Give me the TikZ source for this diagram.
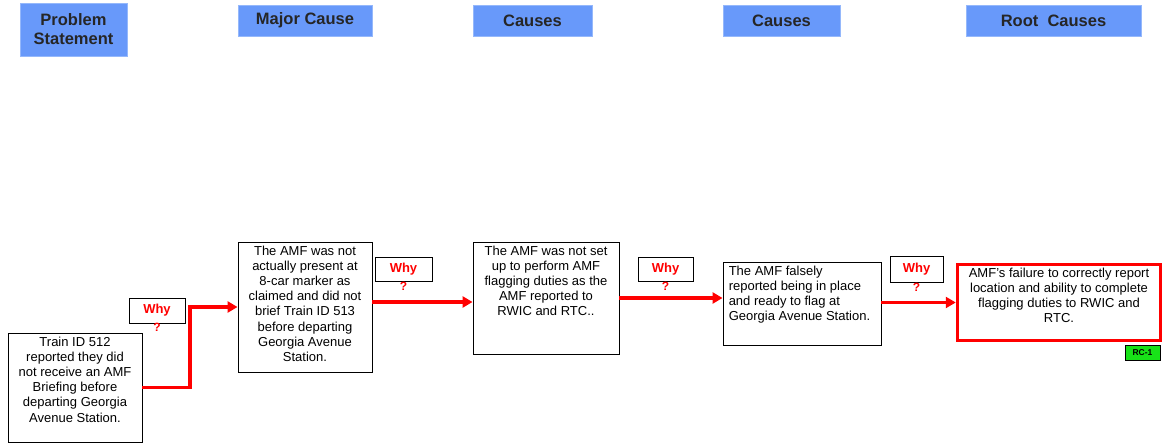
\documentclass[tikz,border=0pt]{standalone}
\usepackage{fontspec}
\setmainfont{Liberation Sans}
\usetikzlibrary{arrows.meta}
\usetikzlibrary{calc}
\definecolor{hdrblue}{RGB}{104,153,250}
\definecolor{rcgreen}{RGB}{24,226,24}

\tikzset{
  header/.style={fill=hdrblue, draw=hdrblue!70!white, line width=0.5pt, inner sep=0pt,
    align=center, font=\fontsize{16.5}{19}\selectfont\bfseries, text=black!85},
  causebox/.style={draw, line width=0.9pt, inner sep=0pt},
  causetext/.style={anchor=north, align=center, inner sep=0pt,
    font=\fontsize{13}{15.2}\selectfont},
  whybox/.style={draw, line width=0.9pt, inner sep=0pt, text=red,
    font=\fontsize{13}{14}\selectfont\bfseries},
  qmark/.style={inner sep=0pt, text=red, font=\fontsize{12}{13}\selectfont\bfseries},
  link/.style={red, line width=3.5pt, -{Triangle[length=10pt,width=11pt]}},
}

\begin{document}
\begin{tikzpicture}[x=1pt, y=-1pt]
\useasboundingbox (0,0) rectangle (1165,443);

% column headers
\node[header, minimum width=107, minimum height=53] (hprob) at (73.5,29.5) {Problem\\Statement};
\node[header, minimum width=134, minimum height=31] (hmajor) at (305,20.5) {Major Cause};
\node[header, minimum width=119, minimum height=31] (hcause1) at (532.5,20.5) {Causes};
\node[header, minimum width=117, minimum height=31] (hcause2) at (781.5,20.5) {Causes};
\node[header, minimum width=175, minimum height=31] (hroot) at (1053.5,20.5) {Root\ \ Causes};

% boxes
\node[causebox, minimum width=134, minimum height=109] (prob) at (75,387.5) {};
\node[causebox, minimum width=134, minimum height=130] (major) at (305,307) {};
\node[causebox, minimum width=146, minimum height=112] (cause1) at (546,298) {};
\node[causebox, minimum width=158, minimum height=83] (cause2) at (802,303.5) {};
\node[draw=red, line width=3.5pt, inner sep=0pt, minimum width=203, minimum height=76] (root) at (1059,302.5) {};
\node[draw, fill=rcgreen, line width=0.6pt, inner sep=0pt, minimum width=35, minimum height=15,
  font=\fontsize{8.5}{9}\selectfont\bfseries] (rc) at (1142.5,352.5) {RC-1};

% texts
\node[causetext] (tprob) at ([yshift=-4]prob.north) {Train ID 512\\reported they did\\not receive an AMF\\Briefing before\\departing Georgia\\Avenue Station.};
\node[causetext] (tmajor) at ([yshift=-4]major.north) {The AMF was not\\actually present at\\8-car marker as\\claimed and did not\\brief Train ID 513\\before departing\\Georgia Avenue\\Station.};
\node[causetext] (tcause1) at ([yshift=-4]cause1.north) {The AMF was not set\\up to perform AMF\\flagging duties as the\\AMF reported to\\RWIC and RTC..};
\node[causetext, anchor=north west, align=left] (tcause2) at ([xshift=6,yshift=-4]cause2.north west) {The AMF falsely\\reported being in place\\and ready to flag at\\Georgia Avenue Station.};
\node[causetext] (troot) at ([yshift=-5]root.north) {AMF's failure to correctly report\\location and ability to complete\\flagging duties to RWIC and\\RTC.};

% why boxes
\node[whybox, minimum width=56, minimum height=25] (why1) at (157,310.5) {Why};
\node[qmark] (q1) at (157,327.5) {?};
\node[whybox, minimum width=57, minimum height=24] (why2) at (403.5,269) {Why};
\node[qmark] (q2) at (403.5,286) {?};
\node[whybox, minimum width=55, minimum height=24] (why3) at (665.5,269) {Why};
\node[qmark] (q3) at (665.5,286) {?};
\node[whybox, minimum width=53, minimum height=26] (why4) at (916.5,269) {Why};
\node[qmark] (q4) at (916.5,287) {?};

% connectors
\coordinate (k1) at ($(prob.east)!.5!(major.west |- prob.east)$);
\draw[link] (prob.east) -- (k1) |- (major.west);
\draw[link] ([yshift=5]major.east) -- ([yshift=5]major.east -| cause1.west);
\draw[link] (cause1.east) -- (cause1.east -| cause2.west);
\draw[link] (root.west -| cause2.east) -- (root.west);
\end{tikzpicture}
\end{document}
